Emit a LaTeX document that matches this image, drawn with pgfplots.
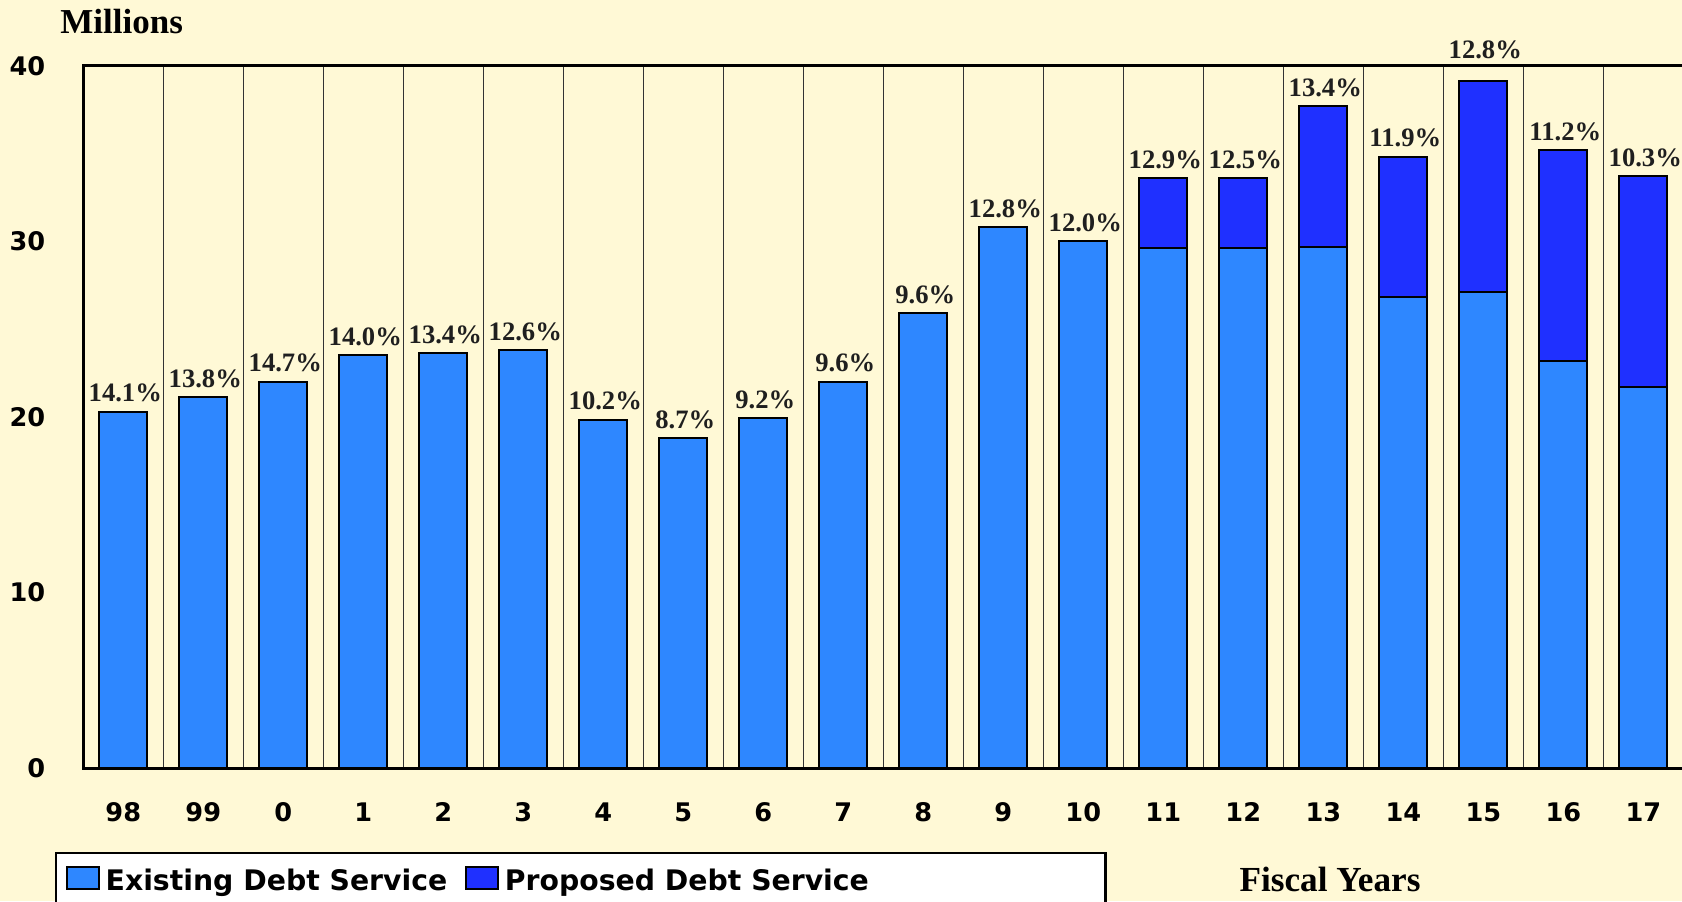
\documentclass[border=0pt]{standalone}
\usepackage{fontspec}
\setmainfont{Liberation Serif}
\newfontfamily\djv{DejaVu Sans}
\usepackage{pgfplots}
\pgfplotsset{compat=1.18}
\usepackage{pgfplotstable}
\definecolor{bg}{HTML}{FFF9D6}
\definecolor{exist}{HTML}{2E87FF}
\definecolor{prop}{HTML}{1F30FF}

\pgfplotstableread{
x existing total lab pct
0  20.30 20.30 20.30 14.1
1  21.12 21.12 21.12 13.8
2  22.01 22.01 22.01 14.7
3  23.51 23.51 23.51 14.0
4  23.63 23.63 23.63 13.4
5  23.81 23.81 23.81 12.6
6  19.83 19.83 19.83 10.2
7  18.80 18.80 18.80 8.7
8  19.93 19.93 19.93 9.2
9  22.01 22.01 22.01 9.6
10 25.90 25.90 25.90 9.6
11 30.80 30.80 30.80 12.8
12 30.02 30.02 30.02 12.0
13 29.60 33.59 33.59 12.9
14 29.60 33.59 33.59 12.5
15 29.70 37.70 37.70 13.4
16 26.81 34.82 34.82 11.9
17 27.10 39.13 39.85 12.8
18 23.19 35.20 35.20 11.2
19 21.69 33.72 33.72 10.3
}\data

\begin{document}
\begin{tikzpicture}
\useasboundingbox (-41.65pt,-66.35pt) rectangle (799.35pt,384.15pt);
\fill[bg] (-41.65pt,-66.35pt) rectangle (799.35pt,384.15pt);
\begin{axis}[
  at={(0pt,0pt)}, anchor=south west,
  scale only axis, width=800pt, height=351.3pt,
  xmin=-0.5, xmax=19.5, ymin=0, ymax=40,
  clip=false,
  axis background/.style={fill=bg},
  xtick={0,...,19},
  xticklabels={98,99,0,1,2,3,4,5,6,7,8,9,10,11,12,13,14,15,16,17},
  ytick={0,10,20,30,40},
  minor xtick={0.5,1.5,...,18.5},
  xminorgrids,
  minor grid style={line width=0.6pt, black!80},
  major tick length=0pt, minor tick length=0pt,
  axis line style={line width=1.5pt},
  /pgf/number format/assume math mode=true,
  xticklabel style={font=\djv\bfseries\fontsize{12.8}{14}\selectfont, anchor=base, inner sep=0pt, yshift=-26.7pt},
  yticklabel style={font=\djv\bfseries\fontsize{12.8}{14}\selectfont, anchor=east, inner sep=0pt, xshift=-18.8pt},
  every axis y label/.style={at={(axis description cs:-0.01456,1.04654)}, anchor=base west, inner sep=0pt, font=\bfseries\fontsize{17.5}{20}\selectfont},
  every axis x label/.style={at={(axis description cs:0.77919,-0.17563)}, anchor=base, inner sep=0pt, font=\bfseries\fontsize{17.6}{20}\selectfont},
  ylabel={Millions},
  xlabel={Fiscal Years},
  legend columns=2,
  legend style={at={(axis description cs:-0.01769,-0.1187)}, anchor=north west,
    draw=black, line width=1.2pt, fill=white,
    font=\djv\bfseries\fontsize{14.15}{16}\selectfont,
    inner xsep=4.65pt, inner ysep=6.65pt, nodes={inner sep=0pt},
    /tikz/every odd column/.append style={column sep=2.75pt},
    /tikz/every even column/.append style={column sep=8.75pt}},
  legend image code/.code={\draw[#1, line width=1pt] (0pt,-4.2pt) rectangle (16.35pt,6.8pt);},
]
\addplot[ybar, bar width=0.6, bar shift=0pt, fill=prop, draw=black, line width=1pt, forget plot]
  table[x=x, y=total]{\data};
\addplot[ybar, bar width=0.6, bar shift=0pt, fill=exist, draw=black, line width=1pt, forget plot]
  table[x=x, y=existing]{\data};
\addplot[only marks, mark=none, forget plot, point meta=explicit,
  nodes near coords={\pgfmathprintnumber[fixed,fixed zerofill,precision=1,assume math mode=true]{\pgfplotspointmeta}\%},
  nodes near coords style={font=\bfseries\fontsize{13.3}{15}\selectfont, anchor=base, inner sep=0pt, yshift=5pt, xshift=1pt, text=black!88}]
  table[x=x, y=lab, meta=pct]{\data};
\addlegendimage{fill=exist, draw=black}
\addlegendentry{Existing Debt Service}
\addlegendimage{fill=prop, draw=black}
\addlegendentry{Proposed Debt Service\hspace*{113.65pt}}
\end{axis}
\end{tikzpicture}
\end{document}
